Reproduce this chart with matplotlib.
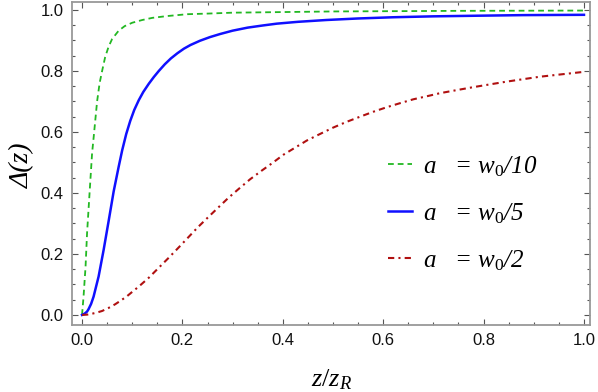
import matplotlib
matplotlib.use("Agg")
import matplotlib.pyplot as plt
from matplotlib.ticker import MultipleLocator

# ---- data ----
z_green = [0, 0.003, 0.007, 0.010, 0.015, 0.020, 0.023, 0.030, 0.035, 0.040,
           0.046, 0.053, 0.060, 0.073, 0.085, 0.100, 0.120, 0.140, 0.170, 0.210,
           0.250, 0.300, 0.400, 0.500, 0.750, 1.000]
d_green = [0, 0.06, 0.158, 0.268, 0.40, 0.53, 0.58, 0.70, 0.76, 0.80,
           0.845, 0.88, 0.905, 0.932, 0.947, 0.958, 0.967, 0.974, 0.980, 0.986,
           0.988, 0.991, 0.993, 0.995, 0.997, 0.998]

z_blue = [0, 0.005, 0.010, 0.013, 0.018, 0.023, 0.033, 0.043, 0.053, 0.063,
          0.073, 0.080, 0.088, 0.096, 0.104, 0.113, 0.122, 0.133, 0.143, 0.153,
          0.165, 0.177, 0.190, 0.203, 0.216, 0.235, 0.255, 0.275, 0.300, 0.330,
          0.360, 0.388, 0.430, 0.487, 0.550, 0.620, 0.700, 0.786, 0.880, 1.000]
d_blue = [0, 0.004, 0.011, 0.019, 0.036, 0.060, 0.126, 0.213, 0.308, 0.405,
          0.486, 0.540, 0.593, 0.636, 0.672, 0.704, 0.731, 0.758, 0.780, 0.800,
          0.822, 0.841, 0.858, 0.873, 0.885, 0.899, 0.911, 0.921, 0.932, 0.942,
          0.949, 0.955, 0.961, 0.967, 0.972, 0.976, 0.979, 0.981, 0.983, 0.984]

z_red = [0, 0.010, 0.020, 0.030, 0.040, 0.053, 0.066, 0.078, 0.090, 0.101,
         0.113, 0.133, 0.153, 0.173, 0.193, 0.212, 0.231, 0.251, 0.270, 0.291,
         0.312, 0.335, 0.357, 0.380, 0.401, 0.425, 0.448, 0.475, 0.500, 0.527,
         0.554, 0.580, 0.607, 0.633, 0.660, 0.687, 0.713, 0.746, 0.780, 0.813,
         0.846, 0.879, 0.912, 0.956, 1.000]
d_red = [0, 0.001, 0.004, 0.008, 0.013, 0.023, 0.035, 0.048, 0.062, 0.077,
         0.093, 0.122, 0.155, 0.188, 0.222, 0.255, 0.288, 0.320, 0.350, 0.383,
         0.413, 0.445, 0.472, 0.499, 0.525, 0.549, 0.572, 0.594, 0.614, 0.633,
         0.650, 0.666, 0.681, 0.694, 0.707, 0.717, 0.727, 0.737, 0.747, 0.756,
         0.765, 0.773, 0.781, 0.789, 0.797]

labels = ["a   = w$_0$/10", "a   = w$_0$/5", "a   = w$_0$/2"]
x_ticks = [0.0, 0.2, 0.4, 0.6, 0.8, 1.0]
y_ticks = [0.0, 0.2, 0.4, 0.6, 0.8, 1.0]

plt.rcParams["mathtext.fontset"] = "custom"
plt.rcParams["mathtext.rm"] = "Liberation Serif"
plt.rcParams["mathtext.it"] = "Liberation Serif:italic"
plt.rcParams["mathtext.default"] = "it"

fig = plt.figure(figsize=(5.98, 3.92), dpi=100)
ax = fig.add_axes([72 / 598, 1 - 325 / 392, (590 - 72) / 598, (325 - 2) / 392])

ax.plot(z_green, d_green, color="#22b822", lw=1.3, ls=(0, (3.2, 2.2)), label=labels[0])
ax.plot(z_blue, d_blue, color="#1010ff", lw=1.8, ls="-", label=labels[1])
ax.plot(z_red, d_red, color="#b01010", lw=1.5, ls=(0, (3.0, 2.0, 1.0, 2.0)), label=labels[2])

ax.set_xlim(-0.02, 1.012)
ax.set_ylim(-0.033, 1.026)
ax.set_xticks(x_ticks)
ax.set_yticks(y_ticks)
ax.set_xticklabels([f"{t:.1f}" for t in x_ticks])
ax.set_yticklabels([f"{t:.1f}" for t in y_ticks])
ax.xaxis.set_minor_locator(MultipleLocator(0.05))
ax.yaxis.set_minor_locator(MultipleLocator(0.05))
ax.tick_params(which="both", direction="in", top=True, right=True,
               color="#555555", width=0.8)
ax.tick_params(which="major", length=4.5, labelsize=12, labelcolor="#111111", pad=6)
ax.tick_params(which="minor", length=2.5)
for lab in ax.get_xticklabels() + ax.get_yticklabels():
    lab.set_family("Liberation Sans")

for s in ax.spines.values():
    s.set_color("#999999")
    s.set_linewidth(1.3)

fig.text(332 / 598, 1 - 380 / 392, "$z/z_R$", ha="center", va="center",
         fontsize=19, family="Liberation Serif")
fig.text(23 / 598, 1 - 165 / 392, "Δ(z)", rotation=90, ha="center", va="center",
         fontsize=20, family="Liberation Serif", style="italic")

leg = ax.legend(loc="upper left", bbox_to_anchor=(388 / 598, 1 - 154 / 392),
                bbox_transform=fig.transFigure, frameon=False,
                prop={"family": "Liberation Serif", "style": "italic", "size": 18},
                handlelength=0.95, handletextpad=0.45, labelspacing=0.9,
                borderpad=0.0, borderaxespad=0.0)

fig.savefig("out.png", dpi=100)
